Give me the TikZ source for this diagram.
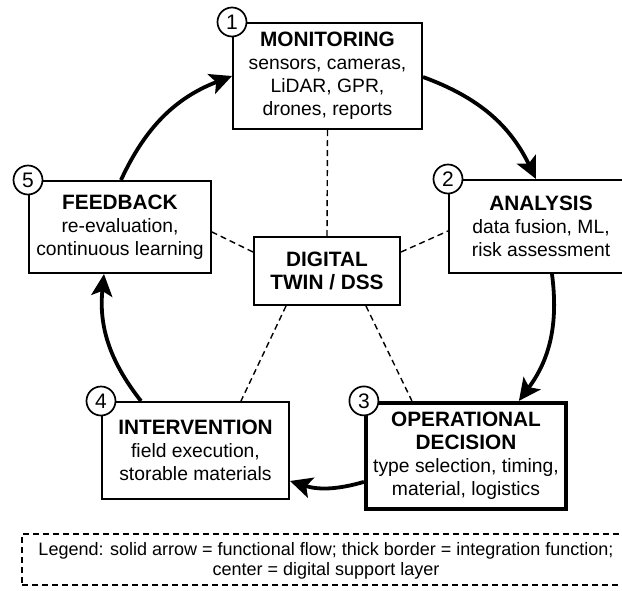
\documentclass[tikz,border=0pt]{standalone}
\usepackage{fontspec}
\setmainfont{Liberation Sans}
\usetikzlibrary{arrows.meta,calc}
\begin{document}
\begin{tikzpicture}[x=1pt,y=-1pt,
  box/.style={draw,line width=2pt,fill=white,inner sep=0pt,align=center,font=\fontsize{19.3}{23}\selectfont},
  circ/.style={draw,circle,line width=1.7pt,fill=white,minimum size=29pt,inner sep=0pt,font=\fontsize{21}{22}\selectfont},
  flow/.style={line width=3.8pt,-{Stealth[length=22pt,width=21pt,inset=5pt]}},
  link/.style={line width=1.4pt,dash pattern=on 6pt off 4pt},
  ttl/.style={font=\fontsize{20.8}{23}\selectfont\bfseries}]
\useasboundingbox (0,0) rectangle (622,590);
\node[box,minimum width=189pt,minimum height=106pt] (mon) at (327.5,76)
  {{\bfseries\fontsize{20.8}{23}\selectfont MONITORING}\\sensors, cameras,\\LiDAR, GPR,\\drones, reports};
\node[box,minimum width=184pt,minimum height=93pt] (an) at (541,226.5)
  {{\bfseries\fontsize{20.8}{23}\selectfont ANALYSIS}\\data fusion, ML,\\risk assessment};
\node[box,minimum width=182pt,minimum height=92pt] (fb) at (120,227)
  {{\bfseries\fontsize{20.8}{23}\selectfont FEEDBACK}\\re-evaluation,\\continuous learning};
\node[box,minimum width=146pt,minimum height=68pt] (dt) at (327,271)
  {{\bfseries\fontsize{20.8}{23}\selectfont DIGITAL}\\{\bfseries\fontsize{20.8}{23}\selectfont TWIN / DSS}};
\node[box,minimum width=187pt,minimum height=97pt] (int) at (195.5,450.5)
  {{\bfseries\fontsize{20.8}{23}\selectfont INTERVENTION}\\field execution,\\storable materials};
\node[box,line width=4.2pt,minimum width=200pt,minimum height=106pt] (op) at (466,456)
  {{\bfseries\fontsize{20.8}{23}\selectfont OPERATIONAL}\\{\bfseries\fontsize{20.8}{23}\selectfont DECISION}\\type selection, timing,\\material, logistics};
% dashed links
\draw[link] (dt.north) -- (mon.south);
\draw[link] ($(dt.north west)+(0,16)$) -- ($(fb.north east)+(0,52)$);
\draw[link] ($(dt.north east)+(0,16)$) -- ($(an.north west)+(0,52)$);
\draw[link] ($(dt.south west)+(33,0)$) -- ($(int.north west)+(140,0)$);
\draw[link] ($(dt.south west)+(113,0)$) -- ($(op.north west)+(48,0)$);
% flow arrows
\draw[flow] ($(fb.north west)+(93,0)$) to[bend left=22] ($(mon.north west)+(0,54)$);
\draw[flow] ($(mon.north east)+(0,55)$) to[bend left=22] ($(an.north west)+(88,0)$);
\draw[flow] ($(an.south west)+(104,0)$) to[bend left=22] ($(op.north west)+(155,0)$);
\draw[flow] ($(op.north west)+(0,81)$) to[bend left=17] ($(int.north east)+(0,80)$);
\draw[flow] ($(int.north west)+(40,0)$) to[bend left=22] ($(fb.south west)+(76,0)$);
% number circles
\node[circ] (c1) at (mon.north west) {1};
\node[circ] (c2) at (an.north west) {2};
\node[circ] (c3) at (op.north west) {3};
\node[circ] (c4) at (int.north west) {4};
\node[circ] (c5) at (fb.north west) {5};
% legend
\node[draw,line width=1.4pt,dash pattern=on 6pt off 4pt,minimum width=618pt,minimum height=51pt,inner sep=0pt] (legbox) at (331,559.5) {};
\node[inner sep=0pt,align=center,font=\fontsize{18}{20.5}\selectfont] (leg) at (326,561)
  {Legend: solid arrow = functional flow; thick border = integration function;\\center = digital support layer};
\end{tikzpicture}
\end{document}
